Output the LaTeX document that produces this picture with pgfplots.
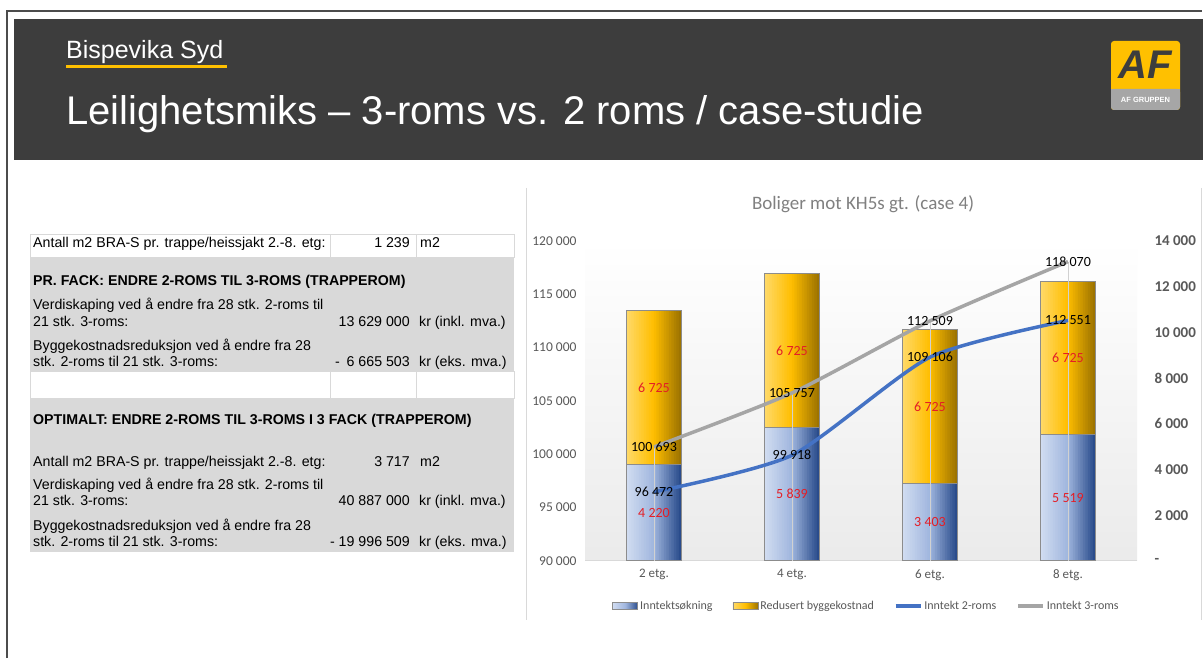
\documentclass[border=0pt]{standalone}
\usepackage{pgfplots}
\usepackage{pgfplotstable}
\pgfplotsset{compat=1.18}
\usepackage{fontspec}
\setmainfont{Liberation Sans}
\newfontfamily\calibri{Carlito}
\definecolor{band}{RGB}{61,61,61}
\definecolor{afyellow}{RGB}{255,192,0}
\definecolor{cellgrey}{RGB}{217,217,217}
\definecolor{axgrey}{RGB}{89,89,89}
\definecolor{ttlgrey}{RGB}{128,128,128}
\definecolor{line2}{RGB}{68,114,196}
\definecolor{line3}{RGB}{165,165,165}
\definecolor{blueL}{RGB}{208,220,241}
\definecolor{blueM}{RGB}{160,182,222}
\definecolor{blueD}{RGB}{42,76,140}
\definecolor{orL}{RGB}{255,217,102}
\definecolor{orM}{RGB}{255,190,0}
\definecolor{orD}{RGB}{158,116,0}
\definecolor{lblred}{RGB}{228,30,38}
% gradient steps for the bars (22 vertical strips, light at left, dark at right)
\foreach \i in {0,...,21}{%
  \pgfmathtruncatemacro\p{round(100*(1-2*\i/21))}%
  \pgfmathtruncatemacro\q{round(100*(2-2*\i/21))}%
  \ifnum\i<11
    \xglobal\colorlet{b\i}{blueL!\p!blueM}\xglobal\colorlet{o\i}{orL!\p!orM}%
  \else
    \xglobal\colorlet{b\i}{blueM!\q!blueD}\xglobal\colorlet{o\i}{orM!\q!orD}%
  \fi
}
\newcommand\fs[1]{\fontsize{#1bp}{#1bp}\selectfont}

\pgfplotstableread{
x  inc   red   l2     l3
0  4220  6725  96472  100693
1  5839  6725  99918  105757
2  3403  6725  109106 112509
3  5519  6725  112551 118070
}\data

\begin{document}
\begin{tikzpicture}[x=1bp,y=1bp,
  tl/.style={anchor=base west, inner sep=0pt, font=\fs{14.2}},
  tr/.style={anchor=base east, inner sep=0pt, font=\fs{14.2}}]
\fill[white] (0,0) rectangle (1203,659);
% slide frame
\draw[line width=1.5bp, black!70] (7,0.8) -- (7,648) -- (1202.2,648);
% header band
\fill[band] (14,{659-160}) rectangle (1203,{659-19});
\node[anchor=base west, inner sep=0pt, text=white, font=\fs{25}] at (66,{659-59}) {Bispevika Syd};
\draw[afyellow, line width=3bp] (66,{659-67}) -- (227,{659-67});
\node[anchor=base west, inner sep=0pt, text=white, font=\fs{40}] at (66,{659-125}) {Leilighetsmiks -- 3-roms vs. 2 roms / case-studie};
% logo
\fill[afyellow, rounded corners=3bp] (1111,{659-110}) rectangle (1180,{659-41});
\fill[black!35, rounded corners=3bp] (1111,{659-110}) rectangle (1180,{659-89});
\fill[black!35] (1111,{659-95}) rectangle (1180,{659-89});
\node[text=band, font=\fs{40}\bfseries\itshape, inner sep=0pt] at (1145,{659-65}) {AF};
\node[text=white, font=\fs{7.5}\bfseries, inner sep=0pt] at (1145.5,{659-100}) {AF GRUPPEN};

% table
\fill[cellgrey] (30,{659-372}) rectangle (514,{659-258});
\fill[cellgrey] (30,{659-552}) rectangle (514,{659-399});
\draw[cellgrey, line width=1bp] (30,{659-258}) rectangle (514,{659-235});
\draw[cellgrey, line width=1bp] (330,{659-258}) -- (330,{659-235}) (416,{659-258}) -- (416,{659-235});
\draw[cellgrey, line width=1bp] (30,{659-399}) rectangle (514,{659-372});
\draw[cellgrey, line width=1bp] (330,{659-399}) -- (330,{659-372}) (416,{659-399}) -- (416,{659-372});

\node[tl] at (33,{659-248}) {Antall m2 BRA-S pr. trappe/heissjakt 2.-8. etg:};
\node[tr] at (410,{659-248}) {1 239};
\node[tl] at (420,{659-248}) {m2};

\node[tl, font=\fs{14.2}\bfseries] at (33,{659-286}) {PR. FACK: ENDRE 2-ROMS TIL 3-ROMS (TRAPPEROM)};
\node[tl] at (33,{659-310}) {Verdiskaping ved å endre fra 28 stk. 2-roms til};
\node[tl] at (33,{659-327}) {21 stk. 3-roms:};
\node[tr] at (410,{659-327}) {13 629 000};
\node[tl] at (419,{659-327}) {kr (inkl. mva.)};
\node[tl] at (33,{659-351}) {Byggekostnadsreduksjon ved å endre fra 28};
\node[tl] at (33,{659-367}) {stk. 2-roms til 21 stk. 3-roms:};
\node[tl] at (335,{659-367}) {-};
\node[tr] at (410,{659-367}) {6 665 503};
\node[tl] at (419,{659-367}) {kr (eks. mva.)};

\node[tl, font=\fs{14.2}\bfseries] at (33,{659-425}) {OPTIMALT: ENDRE 2-ROMS TIL 3-ROMS I 3 FACK (TRAPPEROM)};
\node[tl] at (33,{659-467}) {Antall m2 BRA-S pr. trappe/heissjakt 2.-8. etg:};
\node[tr] at (410,{659-467}) {3 717};
\node[tl] at (420,{659-467}) {m2};
\node[tl] at (33,{659-490}) {Verdiskaping ved å endre fra 28 stk. 2-roms til};
\node[tl] at (33,{659-506}) {21 stk. 3-roms:};
\node[tr] at (410,{659-506}) {40 887 000};
\node[tl] at (419,{659-506}) {kr (inkl. mva.)};
\node[tl] at (33,{659-531}) {Byggekostnadsreduksjon ved å endre fra 28};
\node[tl] at (33,{659-547}) {stk. 2-roms til 21 stk. 3-roms:};
\node[tr] at (410,{659-547}) {- 19 996 509};
\node[tl] at (419,{659-547}) {kr (eks. mva.)};

% chart area
\draw[cellgrey, line width=1bp] (526,{659-188}) -- (526,{659-620});
\draw[cellgrey, line width=1bp] (1201,{659-188}) -- (1201,{659-620});
\node[text=ttlgrey, font=\calibri\fs{19}] at (863,{659-204}) {Boliger mot KH5s gt. (case 4)};

% bars on the right axis: Redusert byggekostnad stacked on Inntektsøkning
\begin{axis}[at={(585bp,98bp)}, anchor=south west, scale only axis,
  width=552bp, height=320bp,
  xmin=-0.5, xmax=3.5, ymin=0, ymax=14000,
  axis background/.style={shade, top color=white, bottom color=black!8},
  axis x line*=bottom, axis y line*=right,
  x axis line style={draw=cellgrey, line width=1bp},
  y axis line style={draw=none},
  major tick length=0pt, scaled y ticks=false,
  xtick={0,1,2,3}, xticklabels={2 etg.,4 etg.,6 etg.,8 etg.},
  xticklabel style={font=\calibri\fs{13}, text=axgrey, yshift=-5bp},
  ytick={0,2000,4000,6000,8000,10000,12000,14000},
  yticklabels={-,2 000,4 000,6 000,8 000,10 000,12 000,14 000},
  yticklabel style={font=\calibri\bfseries\fs{15}, text=axgrey, anchor=west, xshift=14bp},
  ]
% upper segment (top = Inntektsøkning + Redusert byggekostnad), in gradient strips
\pgfplotsinvokeforeach{0,...,21}{
  \addplot[ybar, bar width=3bp, bar shift={(#1-10.5)*2.5bp}, fill=o#1, draw=none]
    table[x=x, y expr=\thisrow{inc}+\thisrow{red}] {\data};
}
% lower segment (Inntektsøkning), in gradient strips
\pgfplotsinvokeforeach{0,...,21}{
  \addplot[ybar, bar width=3bp, bar shift={(#1-10.5)*2.5bp}, fill=b#1, draw=none]
    table[x=x, y=inc] {\data};
}
% outlines
\addplot[ybar, bar width=55bp, bar shift=0pt, fill=none, draw=black!45, line width=1bp]
  table[x=x, y expr=\thisrow{inc}+\thisrow{red}] {\data};
\addplot[ybar, bar width=55bp, bar shift=0pt, fill=none, draw=black!45, line width=1bp]
  table[x=x, y=inc] {\data};
\end{axis}

% lines on the left axis
\begin{axis}[at={(585bp,98bp)}, anchor=south west, scale only axis,
  width=552bp, height=320bp,
  xmin=-0.5, xmax=3.5, ymin=90000, ymax=120000,
  axis x line=none, axis y line*=left,
  y axis line style={draw=none},
  major tick length=0pt, scaled y ticks=false,
  ytick={90000,95000,100000,105000,110000,115000,120000},
  yticklabels={90 000,95 000,100 000,105 000,110 000,115 000,120 000},
  yticklabel style={font=\calibri\fs{13.5}, text=axgrey, xshift=-5bp},
  legend columns=4,
  legend style={at={(axis description cs:0.51,-0.14)}, anchor=center, draw=none, fill=none,
    font=\calibri\fs{12}, text=axgrey, inner sep=0pt,
    nodes={inner xsep=2bp},
    /tikz/every even column/.append style={column sep=18bp}},
  legend image code/.code={\draw[#1] (0bp,0bp) -- (25bp,0bp);},
  ]
\addplot[ycomb, forget plot, draw=black!18, line width=0.8bp] table[x=x, y=l3] {\data};
\addlegendimage{legend image code/.code={\path[draw=black!45, line width=0.8bp, left color=blueL, right color=blueD, middle color=blueM] (0bp,-3.5bp) rectangle (25bp,3.5bp);}}
\addlegendentry{Inntektsøkning}
\addlegendimage{legend image code/.code={\path[draw=black!45, line width=0.8bp, left color=orL, right color=orD, middle color=orM] (0bp,-3.5bp) rectangle (25bp,3.5bp);}}
\addlegendentry{Redusert byggekostnad}
\addplot[line2, line width=3.5bp, smooth, tension=0.4] table[x=x, y=l2] {\data};
\addlegendentry{Inntekt 2-roms}
\addplot[line3, line width=3.5bp, smooth, tension=0.4] table[x=x, y=l3] {\data};
\addlegendentry{Inntekt 3-roms}
% value labels of the lines
\addplot[forget plot, draw=none, nodes near coords, point meta=explicit symbolic,
  every node near coord/.style={anchor=center, font=\calibri\fs{14}, text=black, inner sep=0pt}]
  coordinates {(0,96472)[96 472] (1,99918)[99 918] (2,109106)[109 106] (3,112551)[112 551]};
\addplot[forget plot, draw=none, nodes near coords, point meta=explicit symbolic,
  every node near coord/.style={anchor=center, font=\calibri\fs{14}, text=black, inner sep=0pt}]
  coordinates {(0,100693)[100 693] (1,105757)[105 757] (2,112509)[112 509] (3,118070)[118 070]};
\end{axis}

% value labels of the bar segments (right axis scale, segment centres)
\begin{axis}[at={(585bp,98bp)}, anchor=south west, scale only axis,
  width=552bp, height=320bp,
  xmin=-0.5, xmax=3.5, ymin=0, ymax=14000, hide axis]
\addplot[draw=none, nodes near coords, point meta=explicit symbolic,
  every node near coord/.style={anchor=center, font=\calibri\fs{14}, text=lblred, inner sep=0pt}]
  coordinates {(0,2110)[4 220] (1,2919.5)[5 839] (2,1701.5)[3 403] (3,2759.5)[5 519]};
\addplot[draw=none, nodes near coords, point meta=explicit symbolic,
  every node near coord/.style={anchor=center, font=\calibri\fs{14}, text=lblred, inner sep=0pt}]
  coordinates {(0,7582.5)[6 725] (1,9201.5)[6 725] (2,6765.5)[6 725] (3,8881.5)[6 725]};
\end{axis}
\end{tikzpicture}
\end{document}
